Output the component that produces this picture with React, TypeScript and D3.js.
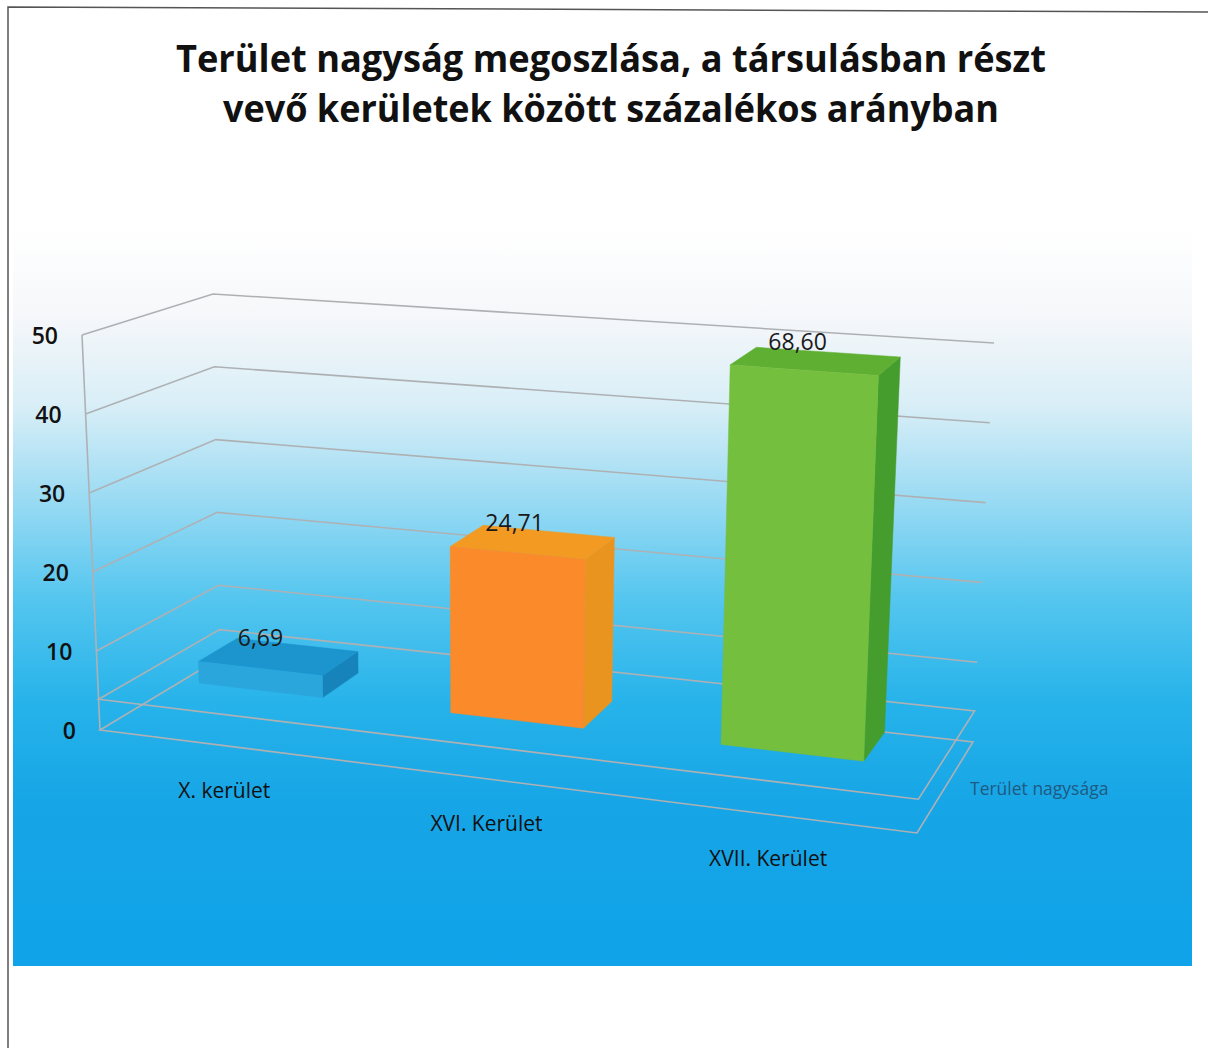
import React from "react";
import * as d3 from "d3";

// ---- data ----
const categories: string[] = ["X. kerület", "XVI. Kerület", "XVII. Kerület"];
const values: number[] = [6.69, 24.71, 68.6];
const valueLabels: string[] = ["6,69", "24,71", "68,60"];
const yTicks: number[] = [0, 10, 20, 30, 40, 50];
const yMax = 50;
const seriesName = "Terület nagysága";
const titleLines: string[] = [
  "Terület nagyság megoszlása, a társulásban részt",
  "vevő kerületek között százalékos arányban",
];

// ---- styles ----
const barColors = [
  { front: "#2ba6dc", top: "#1c95cf", side: "#1783bb" },
  { front: "#fa8a2a", top: "#f29a22", side: "#ea9420" },
  { front: "#74bf3e", top: "#5faf33", side: "#449d2d" },
];
const FONT = "'Open Sans', 'Noto Sans', sans-serif";

// projected corners of the 3D plot box (screen layout)
const C: Record<string, [number, number]> = {
  fl0: [100, 730], fr0: [917, 833], br0: [973, 742], bl0: [220, 658],
  fl1: [82, 335], fr1: [935, 400], br1: [994, 343], bl1: [213, 294],
};
const PERSP = 1.114;
const FLOOR = 3.9; // floor slab thickness in value units
const D0 = 1 / 3, D1 = 2 / 3;

type P = [number, number];
const lerp = (a: P, b: P, t: number): P => [a[0] + (b[0] - a[0]) * t, a[1] + (b[1] - a[1]) * t];
function proj(u: number, v: number, w: number): P {
  const s = u / (u + PERSP * (1 - u));
  const f0 = lerp(C.fl0, C.fr0, s), b0 = lerp(C.bl0, C.br0, s);
  const f1 = lerp(C.fl1, C.fr1, s), b1 = lerp(C.bl1, C.br1, s);
  const p0 = lerp(f0, b0, w), p1 = lerp(f1, b1, w);
  return lerp(p0, p1, v);
}

const xBand = d3.scaleBand<string>().domain(categories).range([0, 1]).paddingInner(0.5).paddingOuter(0.25);
const yScale = d3.scaleLinear().domain([0, yMax]).range([0, 1]).clamp(true);
const line = d3.line<P>();
const poly = (pts: P[]) => (line(pts) || "") + "Z";
const seg = (a: P, b: P) => line([a, b]) || "";

export default function App() {
  const gridStroke = "#aeb1b4";
  const vF = yScale(FLOOR);

  const gridPaths: string[] = [];
  yTicks.filter((t) => t > 0).forEach((t) => {
    const v = yScale(t);
    gridPaths.push(line([proj(0, v, 0), proj(0, v, 1), proj(1, v, 1)]) || "");
  });

  const floorTop = poly([proj(0, vF, 0), proj(1, vF, 0), proj(1, vF, 1), proj(0, vF, 1)]);
  const floorBottom = line([proj(0, 0, 1), proj(0, 0, 0), proj(1, 0, 0), proj(1, 0, 1), proj(0.75, 0, 1)]) || "";
  const leftEdge = seg(proj(0, 0, 0), proj(0, 1, 0));

  const bars = categories.map((cat, i) => {
    const u0 = xBand(cat) as number;
    const u1 = u0 + xBand.bandwidth();
    const v0 = vF;
    const v1 = yScale(values[i]);
    const front = poly([proj(u0, v0, D0), proj(u1, v0, D0), proj(u1, v1, D0), proj(u0, v1, D0)]);
    const side = poly([proj(u1, v0, D0), proj(u1, v0, D1), proj(u1, v1, D1), proj(u1, v1, D0)]);
    const top = poly([proj(u0, v1, D0), proj(u1, v1, D0), proj(u1, v1, D1), proj(u0, v1, D1)]);
    const lab = proj((u0 + u1) / 2, v1, 0.5);
    const catPos = proj((u0 + u1) / 2, 0, 0);
    return { front, side, top, lab, catPos, col: barColors[i] };
  });

  const seriesPos = proj(1, 0, 0.5);

  return (
    <svg width={1208} height={1048} style={{ position: "absolute", left: 0, top: 0 }} xmlns="http://www.w3.org/2000/svg">
      <defs>
        <linearGradient id="bg" x1="0" y1="230" x2="0" y2="966" gradientUnits="userSpaceOnUse">
          <stop offset="0" stopColor="#ffffff" />
          <stop offset="0.12" stopColor="#f5f7fa" />
          <stop offset="0.24" stopColor="#d8eef7" />
          <stop offset="0.37" stopColor="#98daf3" />
          <stop offset="0.5" stopColor="#55c6ef" />
          <stop offset="0.64" stopColor="#27b3ea" />
          <stop offset="0.78" stopColor="#16a5e6" />
          <stop offset="1" stopColor="#10a3e9" />
        </linearGradient>
      </defs>
      <rect x={0} y={0} width={1208} height={1048} fill="#ffffff" />
      <rect x={13} y={230} width={1179} height={736} fill="url(#bg)" />

      {/* frame */}
      <path d="M8,1048 L8,7 L1208,12" fill="none" stroke="#555" strokeWidth={1.5} />

      {/* title */}
      {titleLines.map((t, i) => (
        <text key={i} x={611} y={72 + i * 50} textAnchor="middle" fontFamily={FONT} fontWeight={700}
          fontSize={38} fill="#111" textLength={i === 0 ? 870 : 776} lengthAdjust="spacingAndGlyphs">{t}</text>
      ))}

      {/* walls gridlines */}
      <g fill="none" stroke={gridStroke} strokeWidth={1.6}>
        {gridPaths.map((d, i) => <path key={i} d={d} />)}
        <path d={leftEdge} />
        <path d={floorBottom} />
        <path d={floorTop} />
      </g>

      {/* bars */}
      {bars.map((b, i) => (
        <g key={i}>
          <path d={b.side} fill={b.col.side} stroke={b.col.side} strokeWidth={0.5} />
          <path d={b.top} fill={b.col.top} stroke={b.col.top} strokeWidth={0.5} />
          <path d={b.front} fill={b.col.front} stroke={b.col.front} strokeWidth={0.5} />
        </g>
      ))}

      {/* data labels */}
      {bars.map((b, i) => (
        <text key={i} x={b.lab[0] - 18} y={b.lab[1] - 20} textAnchor="middle" dominantBaseline="central"
          fontFamily={FONT} fontSize={23} fill="#1a1a1a">{valueLabels[i]}</text>
      ))}

      {/* y tick labels */}
      {yTicks.map((t) => {
        const p = proj(0, yScale(t), 0);
        return (
          <text key={t} x={p[0] - 24} y={p[1]} textAnchor="end" dominantBaseline="central"
            fontFamily={FONT} fontWeight={600} fontSize={23} fill="#111">{t}</text>
        );
      })}

      {/* category labels */}
      {bars.map((b, i) => (
        <text key={i} x={b.catPos[0]} y={b.catPos[1] + 44} textAnchor="middle" dominantBaseline="central"
          fontFamily={FONT} fontSize={21} fill="#111">{categories[i]}</text>
      ))}

      {/* series (depth) label */}
      <text x={seriesPos[0] + 25} y={seriesPos[1]} dominantBaseline="central" fontFamily={FONT}
        fontSize={17.5} fill="#1f5a82">{seriesName}</text>
    </svg>
  );
}
